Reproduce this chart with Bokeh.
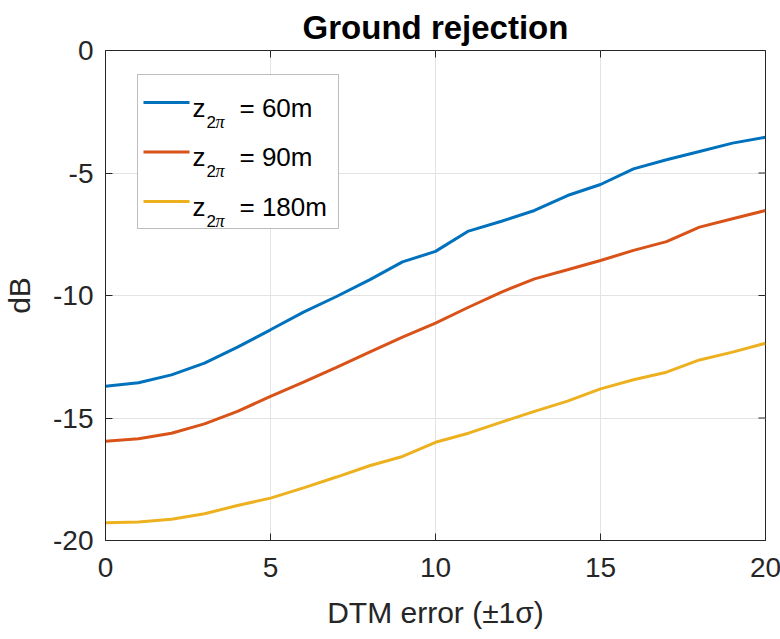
import math

from bokeh.plotting import figure
from bokeh.models import FixedTicker, Range1d, Label, BoxAnnotation
from bokeh.embed import file_html
from bokeh.resources import INLINE

# DTM error (±1 sigma) and ground rejection in dB for three values of z_2pi
dtm_error = list(range(0, 21))
rej_60m = [-13.70, -13.56, -13.24, -12.76, -12.11, -11.40, -10.68, -10.04, -9.36, -8.63,
           -8.20, -7.37, -6.97, -6.53, -5.92, -5.47, -4.83, -4.46, -4.12, -3.78, -3.54]
rej_90m = [-15.95, -15.85, -15.62, -15.24, -14.73, -14.12, -13.54, -12.93, -12.31, -11.70,
           -11.13, -10.48, -9.86, -9.32, -8.95, -8.57, -8.16, -7.80, -7.21, -6.87, -6.53]
rej_180m = [-19.28, -19.24, -19.13, -18.91, -18.57, -18.27, -17.85, -17.41, -16.95, -16.57,
            -15.99, -15.62, -15.17, -14.73, -14.31, -13.81, -13.44, -13.13, -12.63, -12.31, -11.95]

series = [rej_60m, rej_90m, rej_180m]
series_labels = ["= 60m", "= 90m", "= 180m"]
series_colors = ["#0072BD", "#D95319", "#EDB120"]

x_ticks = [0, 5, 10, 15, 20]
y_ticks = [-20, -15, -10, -5, 0]
x_lim = (0, 20)
y_lim = (-20, 0)

FONT = "Liberation Sans"
AX_COLOR = "#262626"
TICK_LEN = 7

p = figure(frame_width=660, frame_height=490,
           min_border_left=102, min_border_right=18,
           min_border_top=50, min_border_bottom=99,
           x_range=Range1d(*x_lim), y_range=Range1d(*y_lim),
           output_backend="svg", toolbar_location=None,
           title="Ground rejection",
           x_axis_label="DTM error (±1σ)", y_axis_label="dB")
p.background_fill_color = "white"
p.border_fill_color = "white"
p.outline_line_color = AX_COLOR
p.outline_line_width = 1

p.title.align = "center"
p.title.text_font = FONT
p.title.text_font_size = "33px"
p.title.text_font_style = "bold"
p.title.text_color = "black"
p.title.standoff = 10

for s, c in zip(series, series_colors):
    p.line(dtm_error, s, line_color=c, line_width=3)

p.xgrid.ticker = FixedTicker(ticks=x_ticks)
p.ygrid.ticker = FixedTicker(ticks=y_ticks)
for g in (p.xgrid, p.ygrid):
    g.grid_line_color = "#e3e3e3"
    g.grid_line_width = 1


def style_axis(ax, ticks):
    ax.ticker = FixedTicker(ticks=ticks)
    ax.major_label_overrides = {t: str(t) for t in ticks}
    ax.axis_line_color = AX_COLOR
    ax.major_tick_line_color = AX_COLOR
    ax.major_tick_in = TICK_LEN
    ax.major_tick_out = 0
    ax.minor_tick_line_color = None
    ax.major_label_text_font = FONT
    ax.major_label_text_color = AX_COLOR
    ax.major_label_text_font_size = "28px"
    ax.axis_label_text_font = FONT
    ax.axis_label_text_color = AX_COLOR
    ax.axis_label_text_font_style = "normal"
    ax.axis_label_text_font_size = "30px"


style_axis(p.xaxis[0], x_ticks)
style_axis(p.yaxis[0], y_ticks)
p.xaxis[0].major_label_standoff = 17
p.xaxis[0].axis_label_standoff = 16
p.yaxis[0].major_label_standoff = 12
p.yaxis[0].axis_label_standoff = 14

# inward ticks on the top and right edges of the box (clipped to the frame)
p.scatter(x_ticks, [y_lim[1]] * len(x_ticks), marker="dash", angle=math.pi / 2,
          size=2 * TICK_LEN, line_color=AX_COLOR, line_width=1)
p.scatter([x_lim[1]] * len(y_ticks), y_ticks, marker="dash",
          size=2 * TICK_LEN, line_color=AX_COLOR, line_width=1)

# legend drawn in frame screen units (origin bottom-left of the frame)
leg_left, leg_right, leg_top, leg_bottom = 32, 233, 466, 312
p.add_layout(BoxAnnotation(left=leg_left, right=leg_right, top=leg_top, bottom=leg_bottom,
                           left_units="screen", right_units="screen",
                           top_units="screen", bottom_units="screen",
                           fill_color="white", fill_alpha=1.0,
                           line_color=AX_COLOR, line_width=1, level="annotation"))
row0, row_step = 438, 49.5
for i, (lab, c) in enumerate(zip(series_labels, series_colors)):
    ly = row0 - i * row_step
    p.add_layout(BoxAnnotation(left=38, right=84, top=ly + 1.5, bottom=ly - 1.5,
                               left_units="screen", right_units="screen",
                               top_units="screen", bottom_units="screen",
                               fill_color=c, fill_alpha=1.0, line_alpha=0,
                               level="annotation"))
    base = ly - 5
    p.add_layout(Label(x=87, y=base, x_units="screen", y_units="screen", text="z",
                       text_font=FONT, text_font_size="26px", text_color="black",
                       text_baseline="alphabetic", text_align="left"))
    p.add_layout(Label(x=101, y=base - 14, x_units="screen", y_units="screen", text="2",
                       text_font=FONT, text_font_size="17px", text_color="black",
                       text_baseline="alphabetic", text_align="left"))
    p.add_layout(Label(x=110, y=base - 14, x_units="screen", y_units="screen", text="π",
                       text_font="Liberation Serif", text_font_style="italic",
                       text_font_size="18px", text_color="black",
                       text_baseline="alphabetic", text_align="left"))
    p.add_layout(Label(x=134, y=base, x_units="screen", y_units="screen", text=lab,
                       text_font=FONT, text_font_size="26px", text_color="black",
                       text_baseline="alphabetic", text_align="left"))

open("out.html", "w").write(file_html(p, INLINE))
